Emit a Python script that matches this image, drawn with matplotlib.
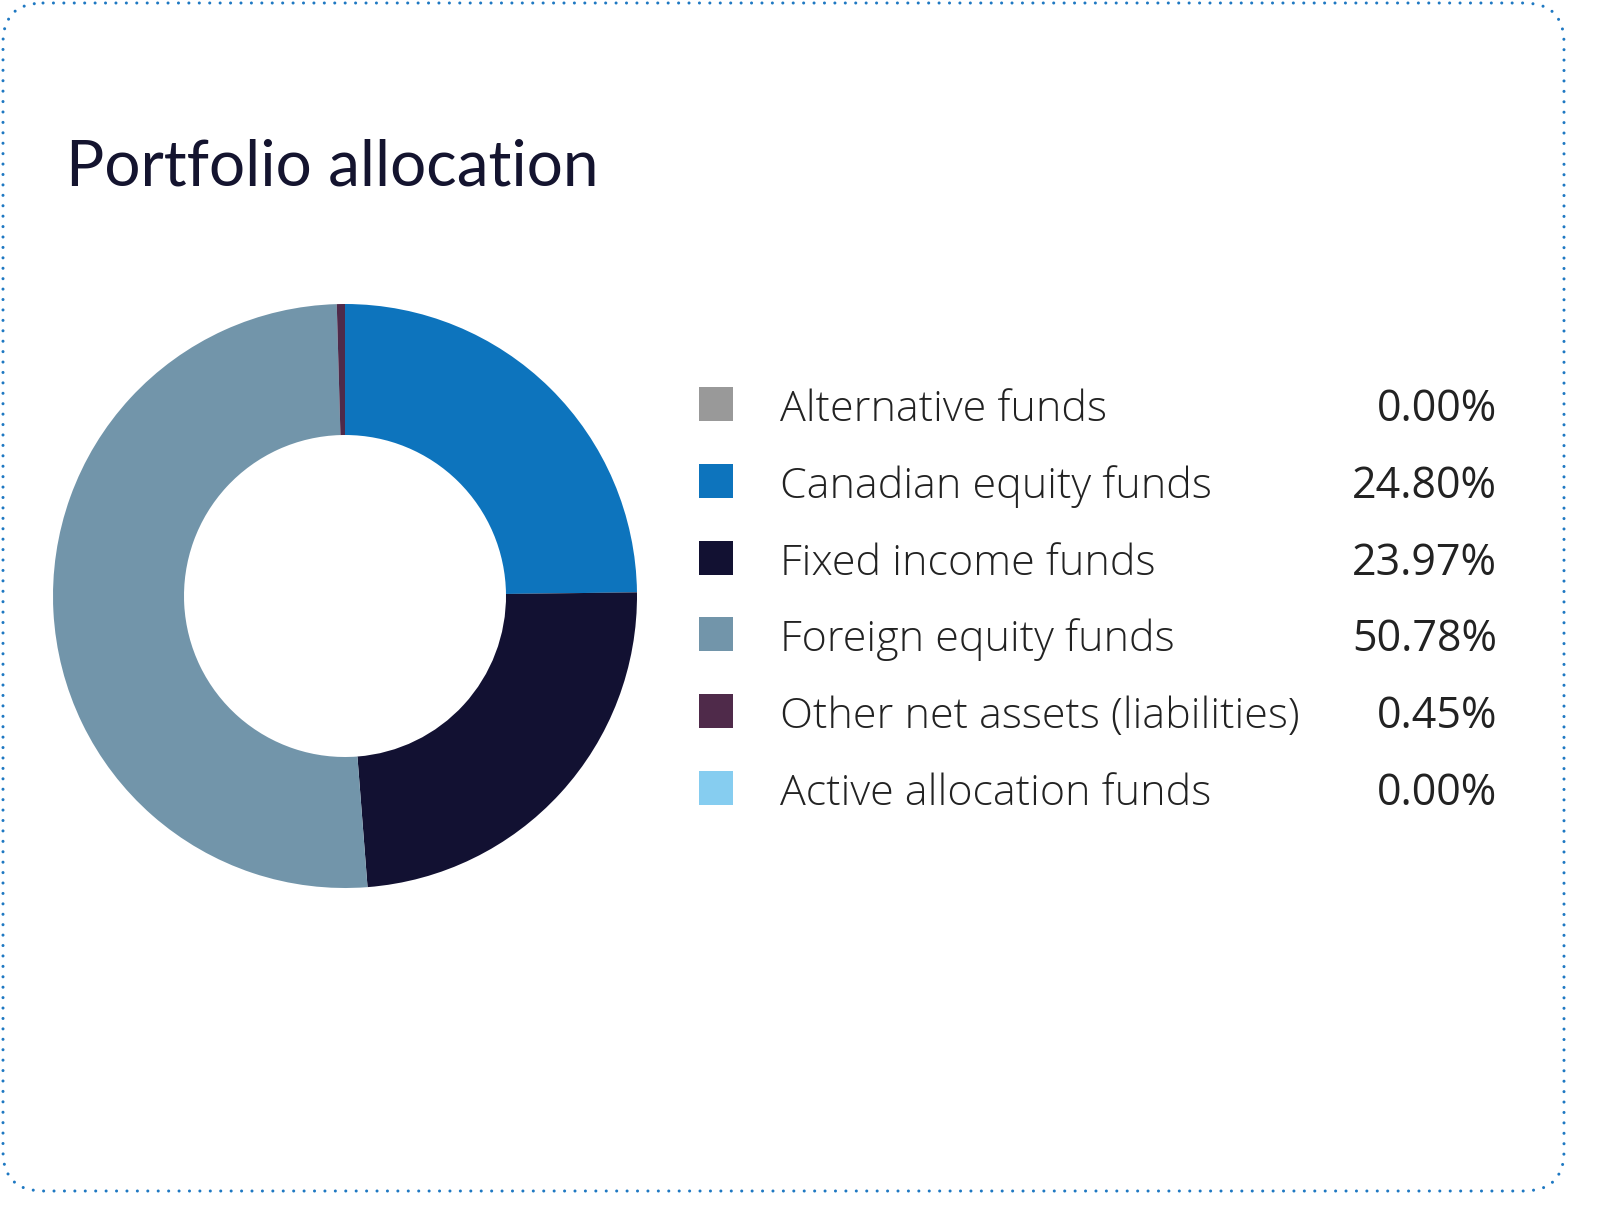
import matplotlib.pyplot as plt
from matplotlib.patches import FancyBboxPatch, Rectangle

W, H = 1597, 1217

categories = ["Alternative funds", "Canadian equity funds", "Fixed income funds",
              "Foreign equity funds", "Other net assets (liabilities)", "Active allocation funds"]
values = [0.00, 24.80, 23.97, 50.78, 0.45, 0.00]
colors = ["#999999", "#0d74bd", "#121132", "#7295aa", "#4f2a4a", "#86cdf0"]

fig = plt.figure(figsize=(W / 100, H / 100), dpi=100)
fig.patch.set_facecolor("white")

# full-figure axes in pixel coords for frame, title and legend
bg = fig.add_axes([0, 0, 1, 1])
bg.set_xlim(0, W)
bg.set_ylim(H, 0)
bg.axis("off")

frame = FancyBboxPatch((3, 3), 1561, 1188, boxstyle="round,pad=0,rounding_size=40",
                       fill=False, edgecolor="#1e78c2", linewidth=2.2,
                       linestyle=(0, (0.01, 3.4)))
frame.set_capstyle("round")
bg.add_patch(frame)

bg.text(66, 185, "Portfolio allocation", fontsize=46, color="#14142f",
        family="Lato", ha="left", va="baseline")

# legend rows
row_y0, row_dy = 404, 76.8
for i, (lab, val, col) in enumerate(zip(categories, values, colors)):
    y = row_y0 + i * row_dy
    bg.add_patch(Rectangle((699, y - 17), 34, 34, facecolor=col, edgecolor="none"))
    bg.text(780, y + 17, lab, fontsize=31, color="#222222", family="Open Sans",
            weight="light", ha="left", va="baseline")
    bg.text(1497, y + 17, f"{val:.2f}%", fontsize=31, color="#222222",
            family="Open Sans", ha="right", va="baseline")

# donut
cx, cy, r_out, r_in = 345, 596, 292, 161
pax = fig.add_axes([(cx - r_out) / W, (H - cy - r_out) / H, 2 * r_out / W, 2 * r_out / H])
pax.pie(values, colors=colors, startangle=90, counterclock=False, radius=1,
        wedgeprops=dict(width=1 - r_in / r_out, edgecolor="none"))
pax.set_xlim(-1, 1)
pax.set_ylim(-1, 1)
pax.set_aspect("auto")
pax.axis("off")

fig.savefig("out.png", dpi=100, facecolor="white")
